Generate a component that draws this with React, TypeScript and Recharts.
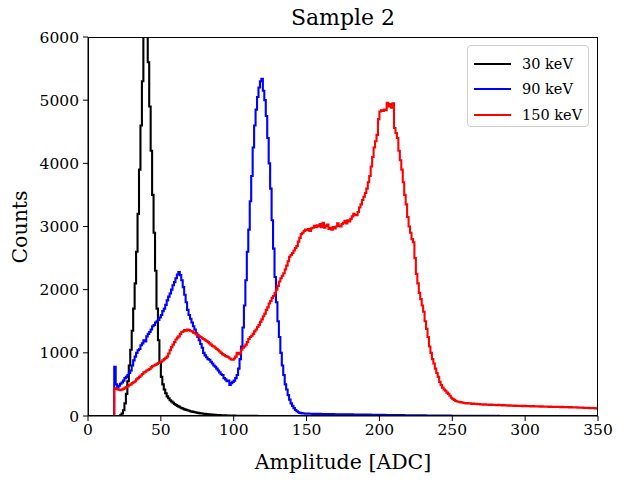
import React from "react";
import { ComposedChart, Line, XAxis, YAxis } from "recharts";

// histogram counts per 1-ADC bin, bins start at 0, 1, 2 ... 349
const BIN = 1;

const counts30 = [
  0, 0, 0, 0, 0, 0, 0, 0, 0, 0, 0, 0, 0, 0, 0, 0, 0, 0, 0, 0,
  0, 0, 10, 40, 90, 200, 350, 550, 800, 1050, 1350, 1700, 2100, 2600, 3200, 3900, 4600, 5300, 6100, 6500,
  6300, 5600, 4900, 4200, 3500, 2900, 2300, 1700, 1200, 850, 620, 500, 420, 360, 310, 280, 250, 230, 210, 190,
  175, 160, 148, 135, 125, 115, 105, 97, 90, 83, 76, 70, 65, 60, 55, 50, 46, 42, 39, 36,
  33, 30, 28, 26, 24, 22, 20, 18, 17, 15, 14, 13, 12, 11, 10, 9, 8, 7, 7, 6,
  6, 5, 5, 4, 4, 4, 3, 3, 3, 3, 2, 2, 2, 2, 2, 2, 1, 1, 1, 1,
  1, 1, 1, 1, 1, 1, 1, 1, 1, 1, 0, 0, 0, 0, 0, 0, 0, 0, 0, 0,
  0, 0, 0, 0, 0, 0, 0, 0, 0, 0, 0, 0, 0, 0, 0, 0, 0, 0, 0, 0,
  0, 0, 0, 0, 0, 0, 0, 0, 0, 0, 0, 0, 0, 0, 0, 0, 0, 0, 0, 0,
  0, 0, 0, 0, 0, 0, 0, 0, 0, 0, 0, 0, 0, 0, 0, 0, 0, 0, 0, 0,
  0, 0, 0, 0, 0, 0, 0, 0, 0, 0, 0, 0, 0, 0, 0, 0, 0, 0, 0, 0,
  0, 0, 0, 0, 0, 0, 0, 0, 0, 0, 0, 0, 0, 0, 0, 0, 0, 0, 0, 0,
  0, 0, 0, 0, 0, 0, 0, 0, 0, 0, 0, 0, 0, 0, 0, 0, 0, 0, 0, 0,
  0, 0, 0, 0, 0, 0, 0, 0, 0, 0, 0, 0, 0, 0, 0, 0, 0, 0, 0, 0,
  0, 0, 0, 0, 0, 0, 0, 0, 0, 0, 0, 0, 0, 0, 0, 0, 0, 0, 0, 0,
  0, 0, 0, 0, 0, 0, 0, 0, 0, 0, 0, 0, 0, 0, 0, 0, 0, 0, 0, 0,
  0, 0, 0, 0, 0, 0, 0, 0, 0, 0, 0, 0, 0, 0, 0, 0, 0, 0, 0, 0,
  0, 0, 0, 0, 0, 0, 0, 0, 0, 0,
];

const counts90 = [
  0, 0, 0, 0, 0, 0, 0, 0, 0, 0, 0, 0, 0, 0, 0, 0, 0, 0, 780, 500,
  450, 480, 510, 530, 560, 600, 620, 650, 680, 720, 800, 880, 940, 1000, 1040, 1060, 1120, 1150, 1200, 1180,
  1260, 1300, 1330, 1370, 1420, 1440, 1480, 1500, 1520, 1560, 1600, 1660, 1700, 1760, 1830, 1890, 1940, 2000, 2070, 2120,
  2180, 2240, 2280, 2230, 2150, 2040, 1920, 1800, 1680, 1600, 1540, 1480, 1420, 1370, 1310, 1250, 1200, 1140, 1080, 1000,
  960, 930, 900, 890, 860, 830, 800, 780, 750, 720, 690, 660, 650, 600, 580, 550, 560, 490, 520, 540,
  560, 600, 650, 750, 900, 1100, 1400, 1750, 2150, 2600, 2950, 3400, 3800, 4250, 4600, 4850, 5050, 5200, 5300, 5340,
  5150, 5000, 4750, 4400, 4000, 3600, 3100, 2650, 2200, 1800, 1500, 1250, 1000, 800, 650, 500, 420, 330, 260, 200,
  160, 125, 95, 75, 60, 50, 45, 42, 40, 38, 37, 38, 35, 36, 34, 35, 33, 34, 32, 33,
  31, 32, 30, 31, 30, 29, 30, 28, 29, 28, 27, 28, 27, 26, 27, 25, 26, 25, 24, 25,
  24, 25, 23, 24, 23, 22, 23, 22, 21, 22, 21, 22, 20, 21, 20, 19, 20, 19, 18, 19,
  18, 19, 17, 18, 17, 16, 17, 16, 15, 16, 15, 16, 14, 15, 14, 13, 14, 13, 12, 13,
  12, 13, 11, 12, 11, 11, 10, 11, 10, 10, 9, 10, 9, 9, 8, 9, 8, 8, 7, 8,
  7, 7, 6, 7, 6, 6, 6, 5, 6, 5, 5, 5, 4, 5, 4, 4, 4, 4, 3, 4,
  3, 3, 3, 3, 3, 3, 2, 3, 2, 2, 2, 2, 2, 2, 2, 2, 2, 2, 2, 1,
  1, 2, 1, 1, 1, 1, 1, 1, 1, 1, 1, 1, 1, 1, 1, 1, 1, 1, 1, 1,
  1, 0, 1, 1, 0, 1, 0, 1, 1, 0, 1, 0, 0, 1, 0, 1, 0, 0, 1, 0,
  0, 1, 0, 0, 0, 1, 0, 0, 1, 0, 0, 0, 0, 1, 0, 0, 0, 0, 0, 1,
  0, 0, 0, 0, 1, 0, 0, 0, 0, 0,
];

const counts150 = [
  0, 0, 0, 0, 0, 0, 0, 0, 0, 0, 0, 0, 0, 0, 0, 0, 0, 0, 440, 430,
  420, 415, 410, 420, 430, 445, 460, 470, 490, 500, 520, 535, 550, 580, 600, 620, 640, 665, 690, 700,
  720, 730, 745, 770, 790, 800, 810, 825, 840, 850, 860, 880, 900, 920, 940, 990, 1040, 1090, 1130, 1170,
  1210, 1240, 1260, 1300, 1330, 1340, 1360, 1350, 1370, 1360, 1350, 1340, 1320, 1310, 1290, 1280, 1260, 1250, 1230, 1220,
  1200, 1190, 1170, 1150, 1130, 1110, 1100, 1080, 1060, 1040, 1020, 1000, 980, 965, 950, 940, 930, 910, 895, 890,
  910, 940, 1000, 980, 1000, 1050, 1080, 1100, 1130, 1170, 1220, 1250, 1270, 1300, 1340, 1370, 1410, 1440, 1490, 1530,
  1580, 1620, 1680, 1720, 1780, 1820, 1870, 1900, 1945, 2000, 2060, 2130, 2180, 2220, 2260, 2320, 2380, 2450, 2520, 2550,
  2580, 2620, 2660, 2690, 2760, 2820, 2880, 2900, 2930, 2950, 2940, 2960, 2930, 2970, 2980, 3010, 2990, 3020, 3000, 3040,
  2990, 3060, 2980, 3010, 3030, 2960, 2980, 2950, 2990, 2970, 3000, 3050, 3010, 3000, 3040, 3060, 3090, 3050, 3100, 3080,
  3120, 3160, 3200, 3180, 3180, 3230, 3300, 3350, 3420, 3470, 3530, 3600, 3700, 3800, 3950, 4100, 4250, 4350, 4450, 4700,
  4820, 4840, 4830, 4850, 4840, 4960, 4900, 4940, 4880, 4950, 4560, 4480, 4400, 4200, 4050, 3900, 3700, 3500, 3350, 3150,
  3000, 2900, 2800, 2750, 2500, 2250, 2100, 1950, 1850, 1750, 1650, 1500, 1380, 1250, 1100, 1000, 900, 830, 750, 680,
  620, 540, 490, 450, 420, 400, 370, 350, 320, 290, 270, 255, 240, 230, 225, 220, 215, 210, 205, 200,
  205, 198, 200, 192, 196, 190, 194, 186, 190, 183, 186, 180, 184, 178, 182, 176, 180, 174, 178, 175,
  172, 176, 170, 174, 168, 172, 166, 170, 165, 168, 163, 167, 161, 165, 160, 163, 158, 162, 157, 160,
  156, 159, 155, 158, 153, 157, 152, 155, 150, 154, 149, 152, 148, 151, 146, 150, 145, 148, 144, 147,
  143, 146, 142, 145, 140, 144, 139, 142, 138, 141, 137, 140, 135, 138, 134, 136, 132, 135, 130, 133,
  129, 131, 127, 128, 125, 126, 123, 124, 121, 119,
];

const xTicks = [0, 50, 100, 150, 200, 250, 300, 350];
const yTicks = [0, 1000, 2000, 3000, 4000, 5000, 6000];

const series = [
  { key: "k30", label: "30 keV", color: "#000000" },
  { key: "k90", label: "90 keV", color: "#0000ff" },
  { key: "k150", label: "150 keV", color: "#ff0000" },
];

const rows = counts30.map((_, i) => ({
  x: i * BIN,
  k30: counts30[i],
  k90: counts90[i],
  k150: counts150[i],
}));
// closing edge so the last bin gets its step
rows.push({ ...rows[rows.length - 1], x: rows.length * BIN });

const FONT = "'DejaVu Serif', serif";
const PLOT = { left: 88, top: 37, right: 598, bottom: 416 };

export default function App() {
  const tick = { fill: "#000", fontSize: 15.5, fontFamily: FONT };
  return (
    <div style={{ position: "absolute", left: 0, top: 0, width: 623, height: 485, background: "#fff" }}>
      <ComposedChart
        width={623}
        height={485}
        data={rows}
        margin={{ top: PLOT.top, right: 623 - PLOT.right, bottom: 485 - PLOT.bottom - 30, left: PLOT.left - 60 }}
      >
        <XAxis
          dataKey="x"
          type="number"
          domain={[0, 350]}
          ticks={xTicks}
          allowDataOverflow
          height={30}
          tick={tick}
          tickSize={5}
          tickMargin={3}
          stroke="#000"
          axisLine={{ stroke: "#000" }}
          tickLine={{ stroke: "#000" }}
        />
        <YAxis
          type="number"
          domain={[0, 6000]}
          ticks={yTicks}
          allowDataOverflow
          width={60}
          tick={tick}
          tickSize={5}
          tickMargin={4}
          stroke="#000"
          axisLine={{ stroke: "#000" }}
          tickLine={{ stroke: "#000" }}
        />
        {series.map((s) => (
          <Line
            key={s.key}
            dataKey={s.key}
            type="stepAfter"
            stroke={s.color}
            strokeWidth={2.1}
            dot={false}
            activeDot={false}
            isAnimationActive={false}
          />
        ))}
      </ComposedChart>

      {/* axes frame */}
      <div
        style={{
          position: "absolute",
          left: PLOT.left,
          top: PLOT.top,
          width: PLOT.right - PLOT.left,
          height: PLOT.bottom - PLOT.top,
          border: "1px solid #000",
          boxSizing: "border-box",
          pointerEvents: "none",
        }}
      />

      <div
        style={{
          position: "absolute",
          left: PLOT.left,
          width: PLOT.right - PLOT.left,
          top: 5,
          textAlign: "center",
          fontFamily: FONT,
          fontSize: 22,
          color: "#000",
        }}
      >
        Sample 2
      </div>

      <div
        style={{
          position: "absolute",
          left: PLOT.left,
          width: PLOT.right - PLOT.left,
          top: 450,
          textAlign: "center",
          fontFamily: FONT,
          fontSize: 20.5,
          color: "#000",
        }}
      >
        Amplitude [ADC]
      </div>

      <div
        style={{
          position: "absolute",
          left: 20,
          top: (PLOT.top + PLOT.bottom) / 2,
          transform: "translate(-50%, -50%) rotate(-90deg)",
          fontFamily: FONT,
          fontSize: 20.5,
          color: "#000",
          whiteSpace: "nowrap",
        }}
      >
        Counts
      </div>

      {/* legend */}
      <div
        style={{
          position: "absolute",
          left: 467,
          top: 45,
          width: 122,
          height: 82,
          boxSizing: "border-box",
          border: "1px solid #d0d0d0",
          borderRadius: 4,
          background: "rgba(255,255,255,0.8)",
          padding: "5px 0 0 6px",
          fontFamily: FONT,
          fontSize: 14.5,
          color: "#000",
        }}
      >
        {series.map((s) => (
          <div key={s.key} style={{ display: "flex", alignItems: "center", height: 25.5 }}>
            <div style={{ width: 37, height: 2, background: s.color, marginRight: 11 }} />
            <span>{s.label}</span>
          </div>
        ))}
      </div>
    </div>
  );
}
